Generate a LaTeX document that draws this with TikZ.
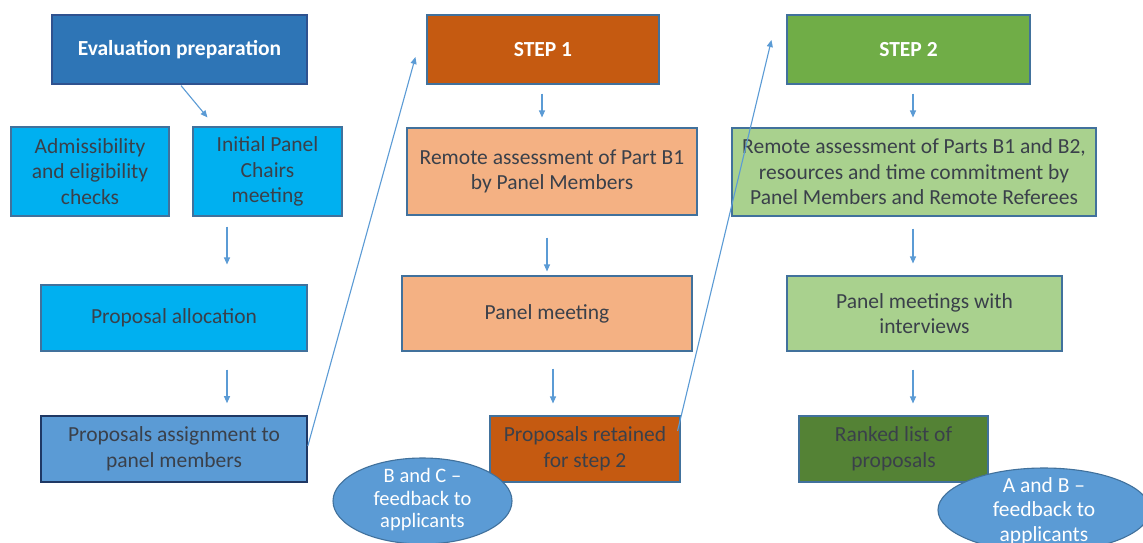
\documentclass[tikz,border=0pt]{standalone}
\usepackage{fontspec}
\setmainfont{Carlito}
\usetikzlibrary{arrows.meta,shapes.geometric}
\definecolor{evalfill}{HTML}{2E75B6}
\definecolor{evalbord}{HTML}{2F528F}
\definecolor{cyanfill}{HTML}{00B0F0}
\definecolor{bord}{HTML}{41719C}
\definecolor{assignfill}{HTML}{5B9BD5}
\definecolor{navybord}{HTML}{1F3864}
\definecolor{orangedark}{HTML}{C55A11}
\definecolor{orangelight}{HTML}{F4B183}
\definecolor{greenmid}{HTML}{70AD47}
\definecolor{greenlight}{HTML}{A9D18E}
\definecolor{greendark}{HTML}{548235}
\definecolor{txt}{HTML}{3A404A}
\definecolor{arrowcol}{HTML}{5B9BD5}
\begin{document}
\begin{tikzpicture}[x=1pt,y=-1pt,
  box/.style={draw=bord, line width=1.1pt, inner sep=0pt, align=center, text=txt,
    font=\fontsize{21.5}{25.5}\selectfont},
  headbox/.style={box, text=white, font=\fontsize{21.5}{25.5}\selectfont\bfseries},
  ellbox/.style={ellipse, draw=bord, line width=1.1pt, fill=assignfill, inner sep=0pt},
  elltext/.style={align=center, text=white, inner sep=0pt},
  conn/.style={draw=arrowcol, line width=1.1pt, -{Triangle[length=7pt,width=6pt]}}]
\path[use as bounding box] (0,0) rectangle (1143,542);
\fill[white] (0,0) rectangle (1143,542);
\begin{scope}
\clip (0,0) rectangle (1143,542);
% column 1
\node[headbox, draw=evalbord, fill=evalfill, minimum width=255pt, minimum height=69pt] (eval) at (179.5,49.5) {Evaluation preparation};
\node[box, fill=cyanfill, minimum width=158pt, minimum height=89pt] (adm) at (90,171.5) {Admissibility\\and eligibility\\checks};
\node[box, fill=cyanfill, minimum width=149pt, minimum height=89pt] (init) at (267.5,171.5) {Initial Panel\\Chairs\\meeting};
\node[box, fill=cyanfill, minimum width=266pt, minimum height=66pt] (alloc) at (174,318) {Proposal allocation};
\node[box, draw=navybord, line width=1.6pt, fill=assignfill, minimum width=266pt, minimum height=66pt] (assign) at (174,449) {Proposals assignment to\\panel members};
% column 2
\node[headbox, fill=orangedark, minimum width=232pt, minimum height=69pt] (step1) at (543,49.5) {STEP 1};
\node[box, fill=orangelight, minimum width=290pt, minimum height=87pt] (remb1) at (552,171.5) {Remote assessment of Part B1\\by Panel Members};
\node[box, fill=orangelight, minimum width=290pt, minimum height=75pt] (panelm) at (547,313.5) {Panel meeting};
\node[box, fill=orangedark, minimum width=190pt, minimum height=66pt] (retained) at (585,449) {Proposals retained\\for step 2};
% column 3
\node[headbox, fill=greenmid, minimum width=243pt, minimum height=69pt] (step2) at (908.5,49.5) {STEP 2};
\node[box, fill=greenlight, minimum width=364pt, minimum height=88pt] (remb2) at (914,172) {Remote assessment of Parts B1 and B2,\\resources and time commitment by\\Panel Members and Remote Referees};
\node[box, fill=greenlight, minimum width=275pt, minimum height=75pt] (panelint) at (924.5,313.5) {Panel meetings with\\interviews};
\node[box, fill=greendark, minimum width=189pt, minimum height=66pt] (ranked) at (893.5,449) {Ranked list of\\proposals};
% ellipses
\node[ellbox, minimum width=179pt, minimum height=86pt] (bc) at (422.5,501) {};
\node[elltext, font=\fontsize{20.5}{22.5}\selectfont] (bct) at ([yshift=1pt]bc.center) {B and C --\\feedback to\\applicants};
\node[ellbox, minimum width=212pt, minimum height=84pt] (ab) at (1044,510) {};
\node[elltext, font=\fontsize{21.5}{24.5}\selectfont] (abt) at ([yshift=-1pt]ab.center) {A and B --\\feedback to\\applicants};
% connectors
\draw[conn] ([xshift=1.5pt,yshift=-1pt]eval.south) -- ([xshift=15pt,yshift=9pt]init.north west);
\draw[conn] ([xshift=-40.5pt,yshift=-10pt]init.south) -- ([xshift=53pt,yshift=20pt]alloc.north);
\draw[conn] ([xshift=53pt,yshift=-18pt]alloc.south) -- ([xshift=53pt,yshift=12pt]assign.north);
\draw[conn] ([yshift=3pt]assign.east) -- ([xshift=-11pt,yshift=-7.5pt]step1.west);
\draw[conn] ([xshift=-1pt,yshift=-9pt]step1.south) -- ([xshift=-10pt,yshift=10pt]remb1.north);
\draw[conn] ([xshift=-5pt,yshift=-22pt]remb1.south) -- ([yshift=4pt]panelm.north);
\draw[conn] ([xshift=6pt,yshift=-17pt]panelm.south) -- ([xshift=-32pt,yshift=12pt]retained.north);
\draw[conn] ([xshift=-3pt,yshift=18pt]retained.east) -- ([xshift=-15pt,yshift=9.5pt]step2.west);
\draw[conn] ([xshift=4.5pt,yshift=-9pt]step2.south) -- ([xshift=-1pt,yshift=10pt]remb2.north);
\draw[conn] ([xshift=-1pt,yshift=-12pt]remb2.south) -- ([xshift=-11.5pt,yshift=12pt]panelint.north);
\draw[conn] ([xshift=-11.5pt,yshift=-18pt]panelint.south) -- ([xshift=19.5pt,yshift=12pt]ranked.north);
\end{scope}
\end{tikzpicture}
\end{document}
